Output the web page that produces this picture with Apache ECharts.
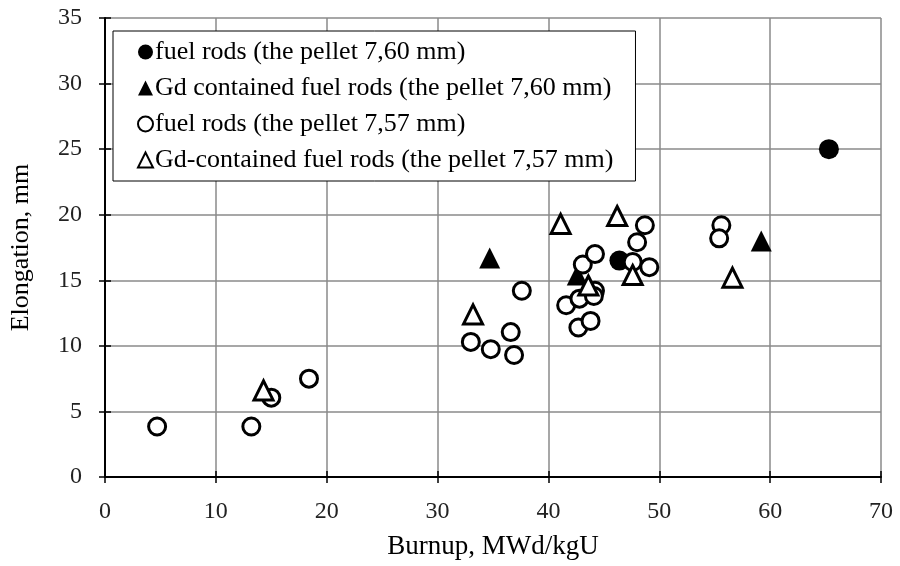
<!DOCTYPE html>
<html>
<head>
<meta charset="utf-8">
<script src="https://cdn.jsdelivr.net/npm/echarts@6/dist/echarts.min.js"></script>
<style>
  html, body { margin: 0; padding: 0; background: #fff; }
  #chart { width: 900px; height: 566px; }
</style>
</head>
<body>
<div id="chart"></div>
<script>
// ── Data (burnup MWd/kgU, elongation mm) ─────────────────────────────────

const seriesNames = [
  "fuel rods (the pellet 7,60 mm)",
  "Gd contained fuel rods (the pellet 7,60 mm)",
  "fuel rods (the pellet 7,57 mm)",
  "Gd-contained fuel rods (the pellet 7,57 mm)",
];

const filledCircles = [[65.3, 25.0], [46.4, 16.5]];

const filledTriangles = [[34.7, 16.7], [59.2, 18.0], [42.6, 15.4]];

const openCircles = [
  [4.7, 3.85], [13.2, 3.85], [15.0, 6.05], [18.4, 7.5],
  [33.0, 10.3], [34.8, 9.75], [36.6, 11.05], [36.9, 9.3], [37.6, 14.2],
  [41.6, 13.1], [42.8, 13.6], [42.7, 11.4], [43.8, 11.9],
  [43.1, 16.2], [44.2, 17.0], [44.2, 14.2], [44.1, 13.8],
  [47.6, 16.4], [48.0, 17.9], [48.7, 19.2], [49.1, 16.0],
  [55.6, 19.2], [55.4, 18.2],
];

const openTriangles = [
  [14.3, 6.6], [33.2, 12.4], [41.1, 19.3], [46.2, 19.9],
  [47.6, 15.4], [43.6, 14.6], [56.6, 15.2],
];

// ── Styling ──────────────────────────────────────────────────────────────

const serif = "Liberation Serif";
const filled = { color: "#000", opacity: 1 };
const hollow = { color: "#fff", borderColor: "#000", borderWidth: 3, opacity: 1 };
const tickStyle = { color: "#000", width: 1.5 };

function scatter(name, data, symbol, size, style) {
  return { name, type: "scatter", data, symbol, symbolSize: size, itemStyle: style };
}

// main axis + an overlay axis that only draws the inner half of each tick,
// so the ticks cross the axis line like in the original
function valueAxis(min, max, interval, extra) {
  return Object.assign({ type: "value", min, max, interval }, extra);
}

const chart = echarts.init(document.getElementById("chart"));

chart.setOption({
  animation: false,
  grid: { left: 105, right: 19, top: 18, bottom: 89 },
  legend: {
    orient: "vertical",
    left: 113,
    top: 31,
    padding: [8, 22, 8, 24],
    itemGap: 10,
    itemWidth: 15,
    itemHeight: 15,
    backgroundColor: "#fff",
    borderColor: "#000",
    borderWidth: 1,
    borderRadius: 0,
    textStyle: { fontFamily: serif, fontSize: 26, color: "#000", padding: [0, 0, 0, -3] },
    data: [
      { name: seriesNames[0], icon: "circle" },
      { name: seriesNames[1], icon: "triangle" },
      { name: seriesNames[2], icon: "circle" },
      { name: seriesNames[3], icon: "triangle" },
    ],
  },
  xAxis: [
    valueAxis(0, 70, 10, {
      name: "Burnup, MWd/kgU",
      nameLocation: "middle",
      nameGap: 56,
      nameTextStyle: { fontFamily: serif, fontSize: 27, color: "#000" },
      axisLine: { lineStyle: { color: "#000", width: 2 } },
      axisTick: { show: true, length: 6, lineStyle: tickStyle },
      axisLabel: { fontFamily: serif, fontSize: 24, color: "#222", margin: 23 },
      splitLine: { lineStyle: { color: "#8a8a8a", width: 1.5 } },
    }),
    valueAxis(0, 70, 10, {
      position: "bottom",
      axisLine: { show: false },
      axisTick: { show: true, inside: true, length: 6, lineStyle: tickStyle },
      axisLabel: { show: false },
      splitLine: { show: false },
    }),
  ],
  yAxis: [
    valueAxis(0, 35, 5, {
      name: "Elongation, mm",
      nameLocation: "middle",
      nameGap: 71,
      nameTextStyle: { fontFamily: serif, fontSize: 26, color: "#000" },
      axisLine: { show: true, lineStyle: { color: "#000", width: 2 } },
      axisTick: { show: true, length: 6, lineStyle: tickStyle },
      axisLabel: { fontFamily: serif, fontSize: 24, color: "#222", margin: 23 },
      splitLine: { lineStyle: { color: "#8a8a8a", width: 1.5 } },
    }),
    valueAxis(0, 35, 5, {
      position: "left",
      axisLine: { show: false },
      axisTick: { show: true, inside: true, length: 6, lineStyle: tickStyle },
      axisLabel: { show: false },
      splitLine: { show: false },
    }),
  ],
  series: [
    scatter(seriesNames[0], filledCircles, "circle", 20, filled),
    scatter(seriesNames[1], filledTriangles, "triangle", 21, filled),
    scatter(seriesNames[2], openCircles, "circle", 17, hollow),
    scatter(seriesNames[3], openTriangles, "triangle", 19, hollow),
  ],
});
</script>
</body>
</html>
